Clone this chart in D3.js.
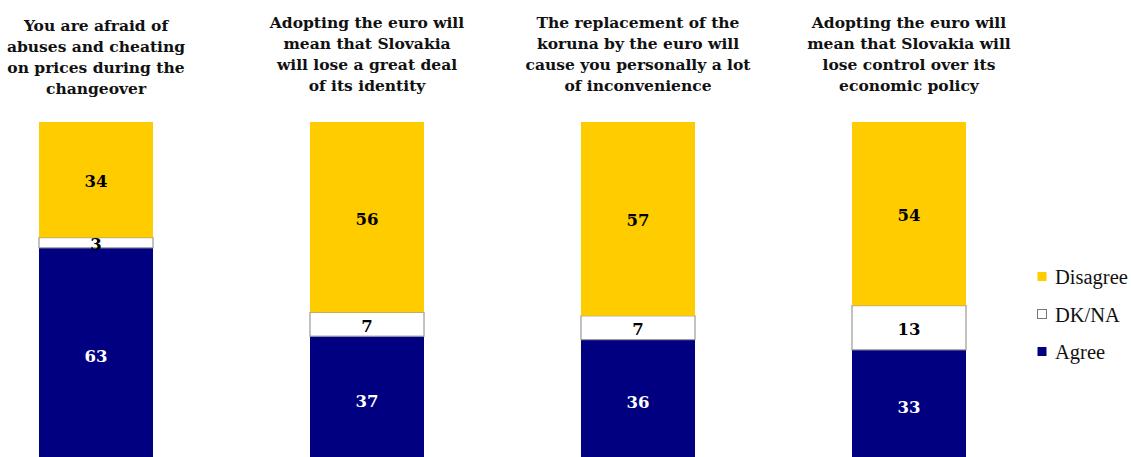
<!DOCTYPE html>
<html>
<head>
<meta charset="utf-8">
<script src="https://cdn.jsdelivr.net/npm/d3@7"></script>
<style>
  html, body { margin: 0; padding: 0; background: #fff; }
  svg { display: block; }
</style>
</head>
<body>
<svg id="chart" width="1131" height="457"></svg>
<script>
// Statements (each title broken into its display lines)
const statements = [
  ["You are afraid of", "abuses and cheating", "on prices during the", "changeover"],
  ["Adopting the euro will", "mean that Slovakia", "will lose a great deal", "of its identity"],
  ["The replacement of the", "koruna by the euro will", "cause you personally a lot", "of inconvenience"],
  ["Adopting the euro will", "mean that Slovakia will", "lose control over its", "economic policy"]
];

// Shares in %, bottom to top: Agree, DK/NA, Disagree
const agree    = [63, 37, 36, 33];
const dkna     = [3, 7, 7, 13];
const disagree = [34, 56, 57, 54];

const seriesNames  = ["Agree", "DK/NA", "Disagree"];
const seriesColors = ["#000080", "#FFFFFF", "#FFCC00"];
const labelColors  = ["#FFFFFF", "#000000", "#000000"];
const legendOrder  = ["Disagree", "DK/NA", "Agree"];

const svg = d3.select("#chart");

const x = d3.scaleBand()
  .domain(d3.range(statements.length))
  .range([39, 966])
  .paddingInner(0.5793)
  .paddingOuter(0);

// 100% spans from the bar top down past the bottom edge of the view
const y = d3.scaleLinear().domain([0, 100]).range([462, 122]);

const rows = statements.map((_, i) => ({
  i, Agree: agree[i], "DK/NA": dkna[i], Disagree: disagree[i]
}));
const stack = d3.stack().keys(seriesNames)(rows);

const serif = "'DejaVu Serif', Georgia, serif";

stack.forEach((layer, k) => {
  const g = svg.append("g");
  g.selectAll("rect")
    .data(layer)
    .join("rect")
    .attr("x", d => x(d.data.i))
    .attr("width", x.bandwidth())
    .attr("y", d => y(d[1]))
    .attr("height", d => y(d[0]) - y(d[1]))
    .attr("fill", seriesColors[k])
    .attr("stroke", k === 1 ? "#9a9a9a" : "none")
    .attr("stroke-width", 1.2);

  g.selectAll("text")
    .data(layer)
    .join("text")
    .attr("x", d => x(d.data.i) + x.bandwidth() / 2)
    .attr("y", d => (y(d[0]) + y(d[1])) / 2 + 1.5)
    .attr("dy", "0.36em")
    .attr("text-anchor", "middle")
    .attr("font-family", serif)
    .attr("font-weight", "bold")
    .attr("font-size", 16.5)
    .attr("fill", labelColors[k])
    .text(d => d[1] - d[0]);
});

// Titles above each bar
const titles = svg.append("g");
statements.forEach((lines, i) => {
  const t = titles.append("text")
    .attr("text-anchor", "middle")
    .attr("font-family", serif)
    .attr("font-weight", "bold")
    .attr("font-size", 15.5)
    .attr("fill", "#111");
  const top = i === 0 ? 31 : 28;
  lines.forEach((line, j) => {
    t.append("tspan")
      .attr("x", x(i) + x.bandwidth() / 2)
      .attr("y", top + j * 21)
      .text(line);
  });
});

// Legend
const legend = svg.append("g").attr("transform", "translate(1037,0)");
legendOrder.forEach((name, j) => {
  const k = seriesNames.indexOf(name);
  const yy = 277 + j * 37.5;
  legend.append("rect")
    .attr("x", 0.5).attr("y", yy - 5)
    .attr("width", 9).attr("height", 9)
    .attr("fill", seriesColors[k])
    .attr("stroke", k === 1 ? "#777" : "none");
  legend.append("text")
    .attr("x", 18).attr("y", yy)
    .attr("dy", "0.35em")
    .attr("font-family", "'Liberation Serif', 'Times New Roman', serif")
    .attr("font-size", 20.5)
    .attr("fill", "#111")
    .text(name);
});
</script>
</body>
</html>
